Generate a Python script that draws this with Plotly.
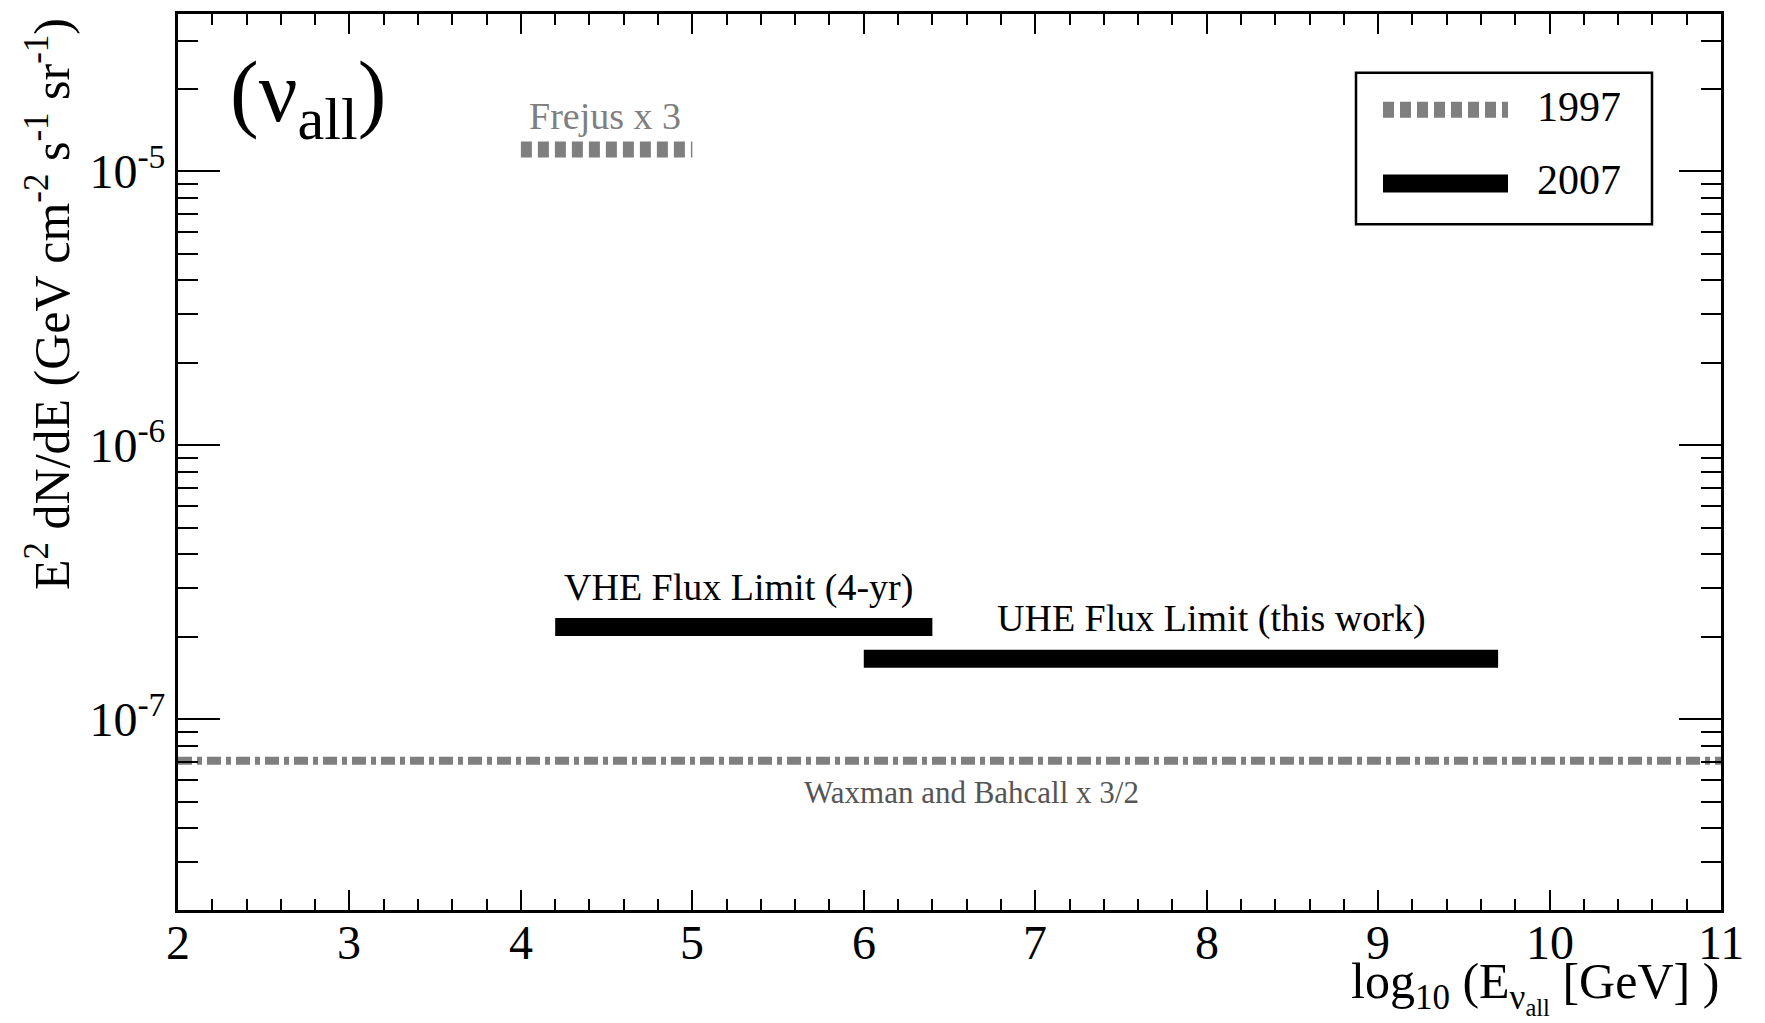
import plotly.graph_objects as go
import math

# ---- data ----
frejus_x = [4.0, 5.0]
frejus_y = [1.2e-5, 1.2e-5]
vhe_x = [4.2, 6.4]
vhe_y = [2.17e-7, 2.17e-7]
uhe_x = [6.0, 9.7]
uhe_y = [1.66e-7, 1.66e-7]
wb_x = [2.0, 11.0]
wb_y = [7.05e-8, 7.05e-8]

x_ticks = [2, 3, 4, 5, 6, 7, 8, 9, 10, 11]
x_ticktext = ["2", "3", "4", "5", "6", "7", "8", "9", "10", "11"]
y_ticks = [1e-7, 1e-6, 1e-5]
y_ticktext = ["10<sup>-7</sup>", "10<sup>-6</sup>", "10<sup>-5</sup>"]

legend_names = ["1997", "2007"]

FONT = "Liberation Serif"
GRAY = "#7f7f7f"

W, H = 1765, 1023
L, R, T, B = 178, 1721, 11, 910

def px(x):
    return (x - L) / (R - L)

def py(y):
    return (B - y) / (B - T)

fig = go.Figure()
fig.add_trace(go.Scatter(x=wb_x, y=wb_y, mode="lines",
                         line=dict(color=GRAY, width=8, dash="14px,5px,5px,5px"),
                         showlegend=False))
fig.add_trace(go.Scatter(x=frejus_x, y=frejus_y, mode="lines",
                         line=dict(color=GRAY, width=16, dash="11px,6px"),
                         showlegend=False))
fig.add_trace(go.Scatter(x=vhe_x, y=vhe_y, mode="lines",
                         line=dict(color="black", width=18), showlegend=False))
fig.add_trace(go.Scatter(x=uhe_x, y=uhe_y, mode="lines",
                         line=dict(color="black", width=18), showlegend=False))

# annotations for the curves
ann = [
    dict(x=4.49, y=math.log10(1.59e-5), text="Frejus x 3", font=dict(size=38, color=GRAY)),
    dict(x=5.27, y=math.log10(3.02e-7), text="VHE Flux Limit (4-yr)", font=dict(size=38, color="black")),
    dict(x=8.03, y=math.log10(2.32e-7), text="UHE Flux Limit (this work)", font=dict(size=38, color="black")),
    dict(x=6.63, y=math.log10(5.4e-8), text="Waxman and Bahcall x 3/2", font=dict(size=31, color="#555555")),
]
for a in ann:
    fig.add_annotation(x=a["x"], y=a["y"], xref="x", yref="y", text=a["text"],
                       showarrow=False, font=dict(family=FONT, **a["font"]),
                       xanchor="center", yanchor="middle")

# x tick labels (placed on the x scale, slightly closer to the axis)
for xv, xt in zip(x_ticks, x_ticktext):
    fig.add_annotation(x=xv, y=py(914), xref="x", yref="paper", text=xt,
                       showarrow=False, font=dict(family=FONT, size=48, color="black"),
                       xanchor="center", yanchor="top")

# panel label
fig.add_annotation(x=px(228), y=py(95), xref="paper", yref="paper",
                   text="(ν<sub>all</sub>)", showarrow=False,
                   font=dict(family=FONT, size=86, color="black"),
                   xanchor="left", yanchor="middle")

# axis titles
fig.add_annotation(x=px(48), y=py(302), xref="paper", yref="paper",
                   text="E<sup>2</sup> dN/dE (GeV cm<sup>-2</sup> s<sup>-1</sup> sr<sup>-1</sup>)",
                   textangle=-90, showarrow=False,
                   font=dict(family=FONT, size=50, color="black"),
                   xanchor="center", yanchor="middle")
fig.add_annotation(x=1.0, y=py(987), xref="paper", yref="paper",
                   text="log<sub>10</sub> (E<sub>ν<sub>all</sub></sub> [GeV] )",
                   showarrow=False,
                   font=dict(family=FONT, size=50, color="black"),
                   xanchor="right", yanchor="middle")

# manual legend
fig.add_shape(type="rect", xref="paper", yref="paper",
              x0=px(1356), x1=px(1652), y0=py(222), y1=py(70),
              line=dict(color="black", width=2.5), fillcolor="white")
fig.add_shape(type="line", xref="paper", yref="paper",
              x0=px(1383), x1=px(1508), y0=py(107), y1=py(107),
              line=dict(color=GRAY, width=16, dash="11px,6px"))
fig.add_shape(type="line", xref="paper", yref="paper",
              x0=px(1383), x1=px(1508), y0=py(181), y1=py(181),
              line=dict(color="black", width=18))
for name, yy in zip(legend_names, [104, 178]):
    fig.add_annotation(x=px(1535), y=py(yy), xref="paper", yref="paper",
                       text=name, showarrow=False,
                       font=dict(family=FONT, size=42, color="black"),
                       xanchor="left", yanchor="middle")

y_minor = [k * 10.0 ** n for n in range(-8, -4) for k in range(2, 10)]

fig.update_layout(
    width=W, height=H,
    margin=dict(l=L, r=W - R, t=T, b=H - B),
    paper_bgcolor="white", plot_bgcolor="white",
    font=dict(family=FONT, color="black"),
    showlegend=False,
    xaxis=dict(range=[2, 11], tickvals=x_ticks, ticks="inside", ticklen=20, tickwidth=2,
               tickcolor="black", showline=True, linewidth=3, linecolor="black",
               mirror="ticks", showgrid=False, zeroline=False, showticklabels=False,
               minor=dict(dtick=0.2, ticks="inside", ticklen=11, tickwidth=2,
                          tickcolor="black", showgrid=False)),
    yaxis=dict(type="log", range=[-7.697, -4.426], tickvals=y_ticks, ticktext=y_ticktext,
               ticks="inside", ticklen=42, tickwidth=2, tickcolor="black",
               showline=True, linewidth=3, linecolor="black", mirror="ticks",
               showgrid=False, zeroline=False,
               tickfont=dict(family=FONT, size=48, color="black"),
               minor=dict(tickvals=y_minor, ticks="inside", ticklen=20, tickwidth=2,
                          tickcolor="black", showgrid=False)),
)

fig.write_html("out.html")
